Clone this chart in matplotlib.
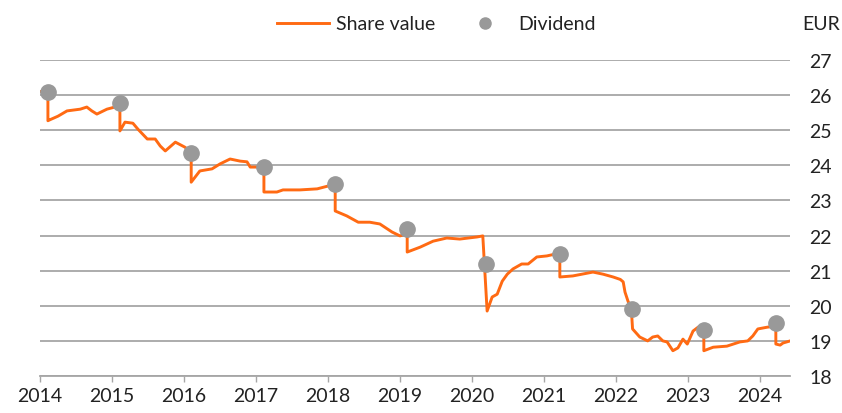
import matplotlib
matplotlib.use("Agg")
import matplotlib.pyplot as plt
from matplotlib.lines import Line2D

plt.rcParams['font.family'] = ['Lato', 'DejaVu Sans']

# share value (decimal years)
share_year = [2014.00, 2014.11, 2014.11, 2014.14, 2014.25, 2014.375, 2014.56, 2014.65, 2014.72, 2014.79,
              2014.93, 2015.04, 2015.11, 2015.11, 2015.18, 2015.29, 2015.36, 2015.49, 2015.60, 2015.67,
              2015.74, 2015.88, 2016.01, 2016.10, 2016.10, 2016.22, 2016.39, 2016.50, 2016.64, 2016.78,
              2016.875, 2016.92, 2017.03, 2017.11, 2017.11, 2017.29, 2017.375, 2017.61, 2017.85, 2018.00,
              2018.10, 2018.10, 2018.26, 2018.42, 2018.58, 2018.72, 2018.89, 2019.00, 2019.10, 2019.10,
              2019.28, 2019.46, 2019.65, 2019.83, 2020.07, 2020.15, 2020.21, 2020.28, 2020.35, 2020.42,
              2020.49, 2020.57, 2020.69, 2020.78, 2020.90, 2021.04, 2021.15, 2021.22, 2021.22, 2021.40,
              2021.68, 2021.82, 2021.96, 2022.06, 2022.10, 2022.125, 2022.17, 2022.21, 2022.23, 2022.33,
              2022.44, 2022.51, 2022.58, 2022.65, 2022.71, 2022.79, 2022.86, 2022.93, 2022.99, 2023.07,
              2023.14, 2023.22, 2023.22, 2023.35, 2023.54, 2023.72, 2023.83, 2023.90, 2023.97, 2024.10,
              2024.21, 2024.22, 2024.22, 2024.28, 2024.32, 2024.42]
share_value = [26.10, 26.10, 25.27, 25.30, 25.40, 25.55, 25.60, 25.66, 25.55, 25.46,
               25.60, 25.66, 25.70, 24.98, 25.23, 25.20, 25.03, 24.75, 24.75, 24.55,
               24.41, 24.66, 24.52, 24.38, 23.52, 23.84, 23.90, 24.04, 24.18, 24.12,
               24.10, 23.95, 23.95, 23.95, 23.24, 23.24, 23.30, 23.30, 23.33, 23.41,
               23.45, 22.70, 22.56, 22.38, 22.38, 22.33, 22.10, 21.99, 22.05, 21.53,
               21.67, 21.84, 21.93, 21.90, 21.96, 21.99, 19.85, 20.25, 20.33, 20.70,
               20.90, 21.05, 21.19, 21.19, 21.39, 21.42, 21.47, 21.50, 20.82, 20.85,
               20.96, 20.90, 20.82, 20.75, 20.68, 20.39, 20.11, 20.00, 19.34, 19.11,
               19.00, 19.11, 19.14, 19.00, 18.97, 18.72, 18.80, 19.05, 18.91, 19.28,
               19.39, 19.33, 18.72, 18.82, 18.85, 18.97, 19.00, 19.14, 19.34, 19.39,
               19.42, 19.45, 18.91, 18.88, 18.94, 19.00]

# dividend dates and markers
div_year = [2014.11, 2015.11, 2016.10, 2017.11, 2018.10, 2019.10, 2020.19, 2021.22, 2022.22, 2023.22, 2024.22]
div_value = [26.09, 25.78, 24.35, 23.95, 23.47, 22.19, 21.19, 21.47, 19.91, 19.31, 19.51]

years = list(range(2014, 2025))
y_ticks = list(range(18, 28))

orange = '#ff6a13'
grey_dot = '#999999'
grid_c = '#a6a6a6'
text_c = '#222222'
fs = 14

fig = plt.figure(figsize=(8.42, 4.14), dpi=100)
ax = fig.add_axes([40 / 842, 1 - 377 / 414, 750 / 842, 316 / 414])

ax.plot(share_year, share_value, color=orange, lw=2.1, zorder=3)
ax.plot(div_year, div_value, ls='none', marker='o', ms=11, color=grey_dot, zorder=4)

ax.set_xlim(2014, 2014 + 750 / 72)
ax.set_ylim(18, 27)
ax.set_xticks(years)
ax.set_yticks(y_ticks)
ax.yaxis.tick_right()
ax.grid(axis='y', color=grid_c, lw=1.3)
ax.set_axisbelow(True)
for s in ['top', 'left', 'right']:
    ax.spines[s].set_visible(False)
ax.spines['bottom'].set_color(grid_c)
ax.spines['bottom'].set_linewidth(1.3)
ax.tick_params(axis='x', direction='out', length=4, width=1, color=grid_c,
               labelsize=fs, labelcolor=text_c, pad=4)
ax.tick_params(axis='y', length=0, labelsize=fs, labelcolor=text_c, pad=14)

fig.text(840 / 842, 1 - 25 / 414, 'EUR', ha='right', va='center', fontsize=fs, color=text_c)

handles = [Line2D([], [], color=orange, lw=2.1),
           Line2D([], [], ls='none', marker='o', ms=8, color=grey_dot)]
leg = fig.legend(handles, ['Share value', 'Dividend'], ncol=2, frameon=False,
                 loc='center', bbox_to_anchor=(436 / 842, 1 - 25 / 414),
                 handlelength=2.7, handletextpad=0.35, columnspacing=1.2,
                 prop={'size': fs})
for t in leg.get_texts():
    t.set_color(text_c)

fig.savefig('out.png', dpi=100)
